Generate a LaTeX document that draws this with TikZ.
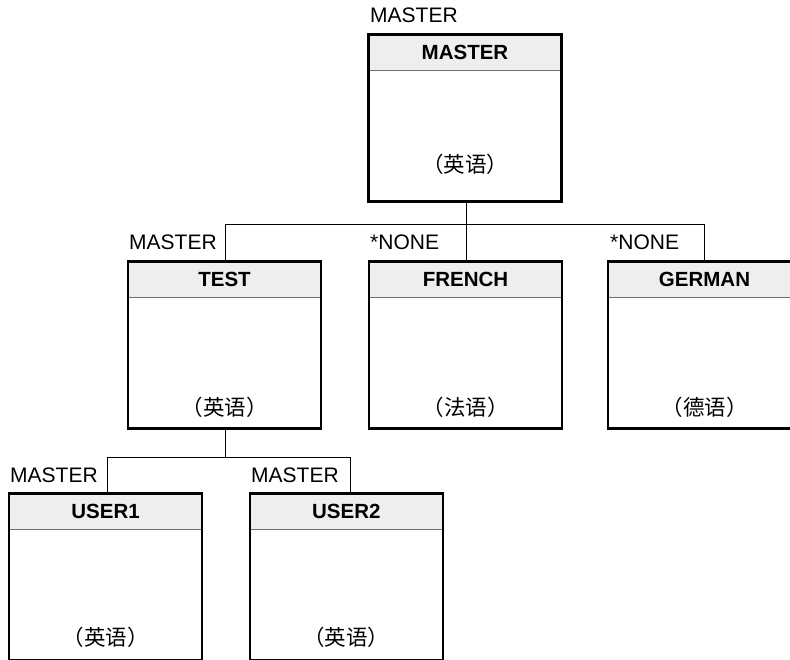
\documentclass[tikz,border=0pt]{standalone}
\usepackage{fontspec}
\setmainfont{Liberation Sans}
\newfontfamily\cjk{Noto Sans CJK SC}
\definecolor{hdrgray}{HTML}{EEEEEE}
\definecolor{sepgray}{HTML}{707070}
\begin{document}
\begin{tikzpicture}[x=1pt,y=-1pt,
  box/.style={draw, line width=2.6pt, minimum width=193pt, minimum height=167pt, inner sep=0pt, anchor=north},
  hdr/.style={fill=hdrgray, draw=sepgray, line width=0.9pt, minimum width=193pt, minimum height=37pt, inner sep=0pt, anchor=north, font=\bfseries\fontsize{20.5}{24}\selectfont},
  lbl/.style={anchor=base west, inner sep=0pt, font=\fontsize{21}{24}\selectfont},
  cjktxt/.style={inner sep=0pt, font=\cjk\fontsize{21.5}{24}\selectfont},
  conn/.style={line width=1pt}]
\useasboundingbox (0,0) rectangle (790,660);
% headers
\node[hdr] (masterh) at (465,33) {MASTER};
\node[hdr] (testh) at (224.5,260) {TEST};
\node[hdr] (frenchh) at (465.5,260) {FRENCH};
\node[hdr] (germanh) at (704.5,260) {GERMAN};
\node[hdr] (user1h) at (105.6,492) {USER1};
\node[hdr] (user2h) at (346.3,492) {USER2};
% boxes
\node[box] (master) at (465,33) {};
\node[box] (test) at (224.5,260) {};
\node[box] (french) at (465.5,260) {};
\node[box] (german) at (704.5,260) {};
\node[box] (user1) at (105.6,492) {};
\node[box] (user2) at (346.3,492) {};
% body texts
\node[cjktxt] (mastert) at (465,164) {（英语）};
\node[cjktxt] (testt) at (224.5,407) {（英语）};
\node[cjktxt] (frencht) at (465.5,407) {（法语）};
\node[cjktxt] (germant) at (704.5,407) {（德语）};
\node[cjktxt] (user1t) at (105.6,637) {（英语）};
\node[cjktxt] (user2t) at (346.3,637) {（英语）};
% labels
\node[lbl] (masterl) at (370,23) {MASTER};
\node[lbl] (testl) at (129,250) {MASTER};
\node[lbl] (frenchl) at (370,250) {*NONE};
\node[lbl] (germanl) at (610,250) {*NONE};
\node[lbl] (user1l) at (10,482) {MASTER};
\node[lbl] (user2l) at (251,482) {MASTER};
% connectors
\coordinate (bus1) at (0,225);
\coordinate (bus2) at (0,457);
\coordinate (u1top) at ([xshift=1.4pt]user1.north);
\coordinate (u2top) at ([xshift=3.7pt]user2.north);
\coordinate (ttop) at ([xshift=0.5pt]test.north);
\coordinate (tbot) at ([xshift=0.5pt]test.south);
\draw[conn] ([xshift=1pt]master.south) -- ([xshift=0.5pt]french.north);
\draw[conn] (ttop) |- (bus1 -| german.north) -- (german.north);
\draw[conn] (tbot) -- (tbot |- bus2);
\draw[conn] (u1top) |- (bus2 -| u2top) -- (u2top);
\end{tikzpicture}
\end{document}
